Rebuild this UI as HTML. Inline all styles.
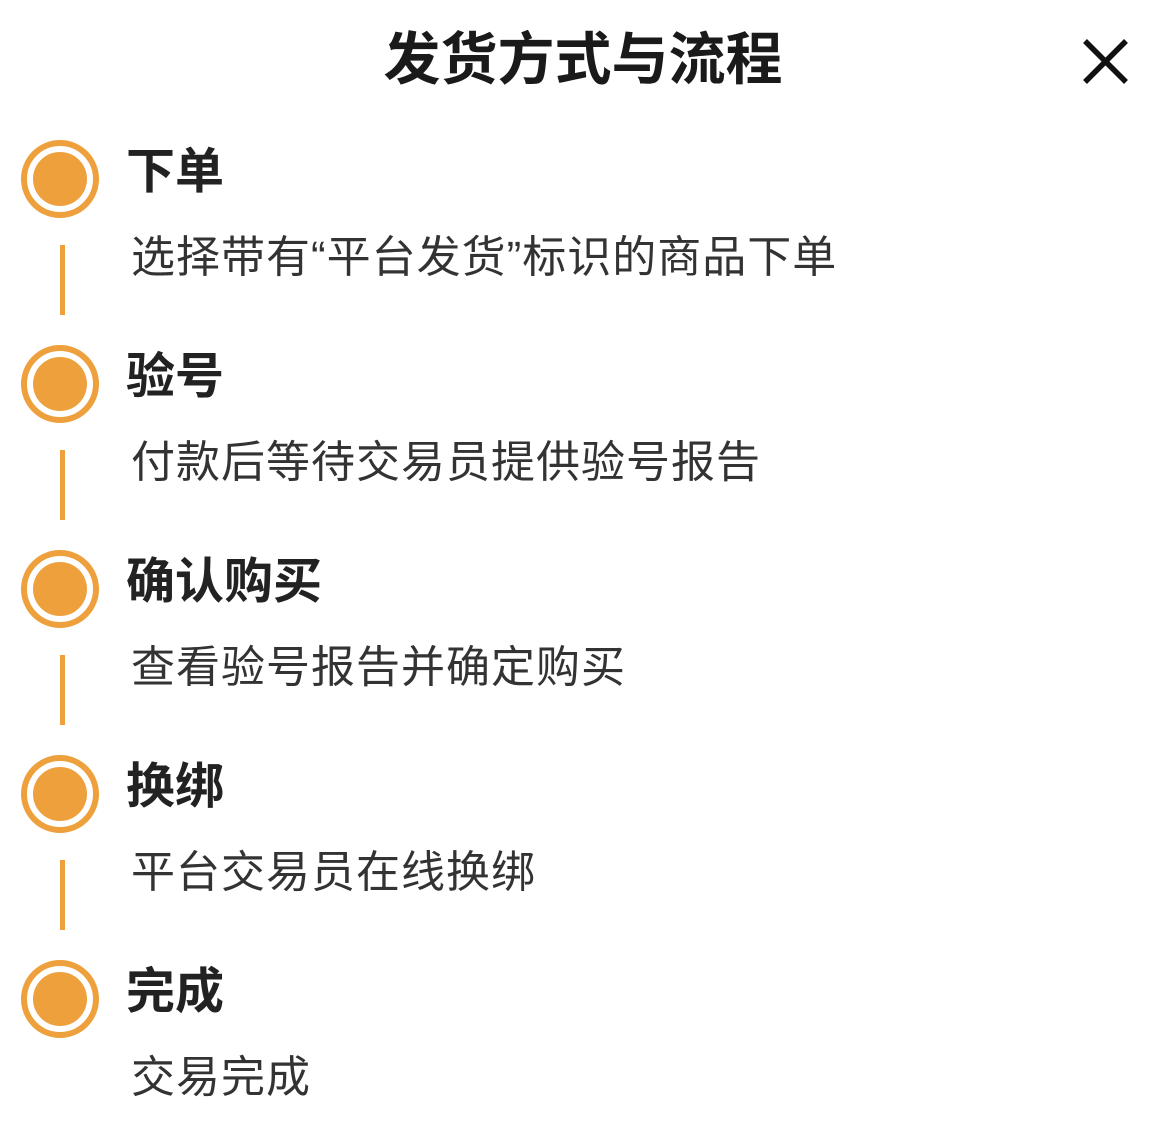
<!DOCTYPE html>
<html><head><meta charset="utf-8"><style>
body{margin:0;width:1157px;height:1131px;background:#fff;position:relative;overflow:hidden;font-family:"Liberation Sans","Noto Sans CJK SC",sans-serif;color:#222}
.t{position:absolute;left:0;width:1166px;text-align:center;top:24px;font-size:57px;font-weight:bold;line-height:72px;color:#1a1a1a}
.c{position:absolute;left:21px;width:66px;height:66px;border:6px solid #eea03c;border-radius:50%;}
.c::after{content:"";position:absolute;left:6px;top:6px;width:54px;height:54px;border-radius:50%;background:#eea03c}
.l{position:absolute;left:60px;width:5px;height:70px;background:#eea03c}
.h{position:absolute;left:126px;font-size:49px;font-weight:bold;line-height:60px;color:#222}
.d{position:absolute;left:131px;font-size:44px;line-height:56px;color:#333;letter-spacing:1px}
</style></head><body>
<div class="t">发货方式与流程</div>
<svg style="position:absolute;left:1080px;top:36px" width="52" height="52"><path d="M5 5L46 46M46 5L5 46" stroke="#111" stroke-width="5.5"/></svg>

<div class="c" style="top:140px"></div><div class="h" style="top:142px">下单</div><div class="d" style="top:230px">选择带有“平台发货”标识的商品下单</div><div class="l" style="top:245px"></div>
<div class="c" style="top:345px"></div><div class="h" style="top:347px">验号</div><div class="d" style="top:435px">付款后等待交易员提供验号报告</div><div class="l" style="top:450px"></div>
<div class="c" style="top:550px"></div><div class="h" style="top:552px">确认购买</div><div class="d" style="top:640px">查看验号报告并确定购买</div><div class="l" style="top:655px"></div>
<div class="c" style="top:755px"></div><div class="h" style="top:757px">换绑</div><div class="d" style="top:845px">平台交易员在线换绑</div><div class="l" style="top:860px"></div>
<div class="c" style="top:960px"></div><div class="h" style="top:962px">完成</div><div class="d" style="top:1050px">交易完成</div>
</body></html>
